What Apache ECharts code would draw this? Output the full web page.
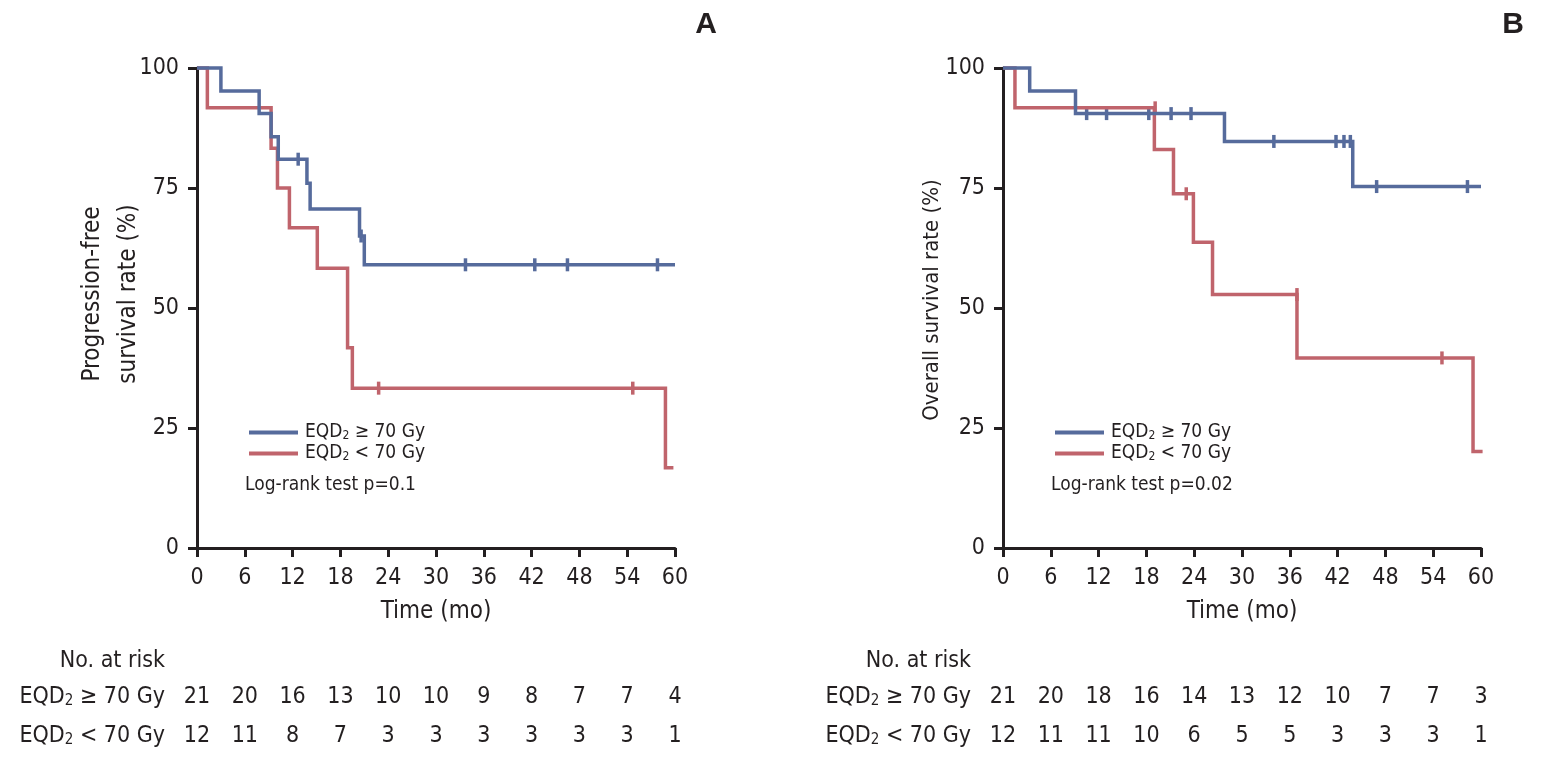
<!DOCTYPE html>
<html>
<head>
<meta charset="utf-8">
<script src="https://cdn.jsdelivr.net/npm/echarts@6/dist/echarts.min.js"></script>
<style>
html,body{margin:0;padding:0;background:#fff;}
#main{width:1544px;height:766px;}
</style>
</head>
<body>
<div id="main"></div>
<script>
// ---------- DATA ----------
const xTicks = [0, 6, 12, 18, 24, 30, 36, 42, 48, 54, 60];
const yTicks = [0, 25, 50, 75, 100];
const groupNames = ['EQD2 ≥ 70 Gy', 'EQD2 < 70 Gy'];

// Panel A: progression-free survival (time, survival %)
const pfsHiTime = [0, 3.0, 7.8, 9.3, 10.2, 13.8, 14.2, 20.4, 21.0, 60];
const pfsHiSurv = [100, 95.2, 90.5, 85.7, 81.0, 76.0, 70.6, 65.0, 59.0, 59.0];
const pfsHiCensT = [12.7, 20.6, 33.7, 42.4, 46.5, 57.8];
const pfsHiCensS = [81.0, 65.0, 59.0, 59.0, 59.0, 59.0];

const pfsLoTime = [0, 1.3, 9.3, 10.1, 11.6, 15.1, 18.9, 19.5, 58.8, 59.8];
const pfsLoSurv = [100, 91.7, 83.3, 75.0, 66.7, 58.3, 41.7, 33.3, 16.7, 16.7];
const pfsLoCensT = [22.8, 54.7];
const pfsLoCensS = [33.3, 33.3];

// Panel B: overall survival
const osHiTime = [0, 3.35, 9.1, 27.8, 43.9, 60];
const osHiSurv = [100, 95.2, 90.5, 84.7, 75.3, 75.3];
const osHiCensT = [10.5, 13.0, 18.3, 21.1, 23.6, 34.0, 41.8, 42.8, 43.6, 46.9, 58.3];
const osHiCensS = [90.5, 90.5, 90.5, 90.5, 90.5, 84.7, 84.7, 84.7, 84.7, 75.3, 75.3];

const osLoTime = [0, 1.5, 19.0, 21.4, 23.9, 26.3, 36.9, 59.0, 60.2];
const osLoSurv = [100, 91.7, 83.0, 73.8, 63.7, 52.8, 39.6, 20.1, 20.1];
const osLoCensT = [19.1, 23.0, 36.9, 55.1];
const osLoCensS = [91.7, 73.8, 52.8, 39.6];

// Numbers at risk
const riskAHi = [21, 20, 16, 13, 10, 10, 9, 8, 7, 7, 4];
const riskALo = [12, 11, 8, 7, 3, 3, 3, 3, 3, 3, 1];
const riskBHi = [21, 20, 18, 16, 14, 13, 12, 10, 7, 7, 3];
const riskBLo = [12, 11, 11, 10, 6, 5, 5, 3, 3, 3, 1];

const panelLabels = ['A', 'B'];
const yTitles = ['Progression-free\nsurvival rate (%)', 'Overall survival rate (%)'];
const xTitle = 'Time (mo)';
const pTexts = ['Log-rank test p=0.1', 'Log-rank test p=0.02'];

// ---------- STYLE ----------
const FONT = "'Liberation Sans Narrow', 'DejaVu Sans Condensed', 'Roboto', sans-serif";
const INK = '#231f20';
const BLUE = '#566b9c';
const RED = '#c0646c';

const zip = (a, b) => a.map((v, i) => [v, b[i]]);
const richName = n => {
  const rest = n.replace('EQD2', '');
  return '{a|EQD}{s|2}{a|' + rest + '}';
};

const chart = echarts.init(document.getElementById('main'), null, {renderer: 'canvas'});

const plotLefts = [197, 1003];
const PW = 478, PTOP = 68, PH = 480;

const grids = [], xAxes = [], yAxes = [], series = [], graphics = [], legends = [];

const panels = [
  {hi: [pfsHiTime, pfsHiSurv, pfsHiCensT, pfsHiCensS], lo: [pfsLoTime, pfsLoSurv, pfsLoCensT, pfsLoCensS], rHi: riskAHi, rLo: riskALo},
  {hi: [osHiTime, osHiSurv, osHiCensT, osHiCensS], lo: [osLoTime, osLoSurv, osLoCensT, osLoCensS], rHi: riskBHi, rLo: riskBLo}
];

panels.forEach((p, k) => {
  const L = plotLefts[k];
  grids.push({left: L, top: PTOP, width: PW, height: PH, containLabel: false});
  const gi = grids.length - 1;
  xAxes.push({
    gridIndex: gi, type: 'value', min: 0, max: 60, interval: 6,
    axisLine: {lineStyle: {color: INK, width: 3}},
    axisTick: {length: 9, lineStyle: {color: INK, width: 3}},
    axisLabel: {color: INK, fontFamily: FONT, fontSize: 23, margin: 19},
    splitLine: {show: false},
    name: xTitle, nameLocation: 'middle', nameGap: 52,
    nameTextStyle: {color: INK, fontFamily: FONT, fontSize: 24}
  });
  yAxes.push({
    gridIndex: gi, type: 'value', min: 0, max: 100, interval: 25,
    axisLine: {show: true, lineStyle: {color: INK, width: 3}},
    axisTick: {show: true, length: 9, lineStyle: {color: INK, width: 3}},
    axisLabel: {color: INK, fontFamily: FONT, fontSize: 23, margin: 18},
    splitLine: {show: false}
  });
  const mkLine = (arr, name, color) => ({
    type: 'line', name, xAxisIndex: gi, yAxisIndex: gi, step: 'end',
    data: zip(arr[0], arr[1]), symbol: 'none', clip: false,
    lineStyle: {color, width: 3.5, cap: 'butt', join: 'miter'}, itemStyle: {color},
    emphasis: {disabled: true}, animation: false
  });
  const mkCens = (arr, name, color) => ({
    type: 'scatter', name: name + ' censored', xAxisIndex: gi, yAxisIndex: gi,
    data: zip(arr[2], arr[3]), symbol: 'rect', symbolSize: [3.5, 13],
    itemStyle: {color, opacity: 1}, emphasis: {disabled: true}, animation: false
  });
  series.push(mkLine(p.lo, groupNames[1], RED));
  series.push(mkCens(p.lo, groupNames[1], RED));
  series.push(mkLine(p.hi, groupNames[0], BLUE));
  series.push(mkCens(p.hi, groupNames[0], BLUE));

  // risk table grid
  grids.push({left: L, top: 677.5, width: PW, height: 78});
  const ri = grids.length - 1;
  xAxes.push({gridIndex: ri, type: 'value', min: 0, max: 60, interval: 6, show: false});
  yAxes.push({
    gridIndex: ri, type: 'category', data: ['lo', 'hi'],
    axisLine: {show: false}, axisTick: {show: false}, splitLine: {show: false},
    axisLabel: {
      margin: 32, color: INK,
      formatter: v => richName(v === 'hi' ? groupNames[0] : groupNames[1]),
      rich: {
        a: {fontFamily: FONT, fontSize: 23, color: INK},
        s: {fontFamily: FONT, fontSize: 15, color: INK, padding: [8, 0, 0, 0]}
      }
    }
  });
  const mkRisk = (vals, cat) => ({
    type: 'scatter', xAxisIndex: ri, yAxisIndex: ri,
    data: xTicks.map((t, i) => ({value: [t, cat, vals[i]]})),
    symbol: 'circle', symbolSize: 2, itemStyle: {color: 'rgba(0,0,0,0)', opacity: 1},
    label: {show: true, position: 'inside', formatter: q => String(q.value[2]), color: INK, opacity: 1, fontFamily: FONT, fontSize: 23},
    labelLayout: {hideOverlap: false},
    emphasis: {disabled: true}, animation: false, silent: true
  });
  series.push(mkRisk(p.rHi, 'hi'));
  series.push(mkRisk(p.rLo, 'lo'));

  legends.push({
    data: groupNames.map(n => ({name: n, icon: 'rect'})),
    orient: 'vertical', left: L + 47, top: 418,
    itemWidth: 49, itemHeight: 4, itemGap: 2,
    selectedMode: false,
    formatter: n => richName(n),
    textStyle: {
      color: INK, padding: [0, 0, 0, 2],
      rich: {
        a: {fontFamily: FONT, fontSize: 19, color: INK, lineHeight: 22},
        s: {fontFamily: FONT, fontSize: 12, color: INK, padding: [6, 0, 0, 0]}
      }
    }
  });

  graphics.push({
    type: 'text', left: L + 48, top: 476,
    style: {text: pTexts[k], fontFamily: FONT, fontSize: 19, fill: INK}
  });
  graphics.push({
    type: 'text', x: k === 0 ? 706 : 1513, y: 25,
    style: {text: panelLabels[k], fontFamily: "'Liberation Sans', Arial, sans-serif", fontWeight: 'bold', fontSize: 30, fill: INK, align: 'center', verticalAlign: 'middle'}
  });
  graphics.push({
    type: 'text', x: k === 0 ? 111 : 932, y: k === 0 ? 294 : 300, rotation: Math.PI / 2,
    style: {text: yTitles[k], fontFamily: FONT, fontSize: k === 0 ? 24 : 22, lineHeight: 36, fill: INK, align: 'center', verticalAlign: 'middle'}
  });
  graphics.push({
    type: 'text', x: L - 32, y: 661,
    style: {text: 'No. at risk', fontFamily: FONT, fontSize: 23, fill: INK, align: 'right', verticalAlign: 'middle'}
  });
});

chart.setOption({
  backgroundColor: '#ffffff',
  animation: false,
  grid: grids, xAxis: xAxes, yAxis: yAxes,
  legend: legends,
  series: series,
  graphic: graphics
});
</script>
</body>
</html>
